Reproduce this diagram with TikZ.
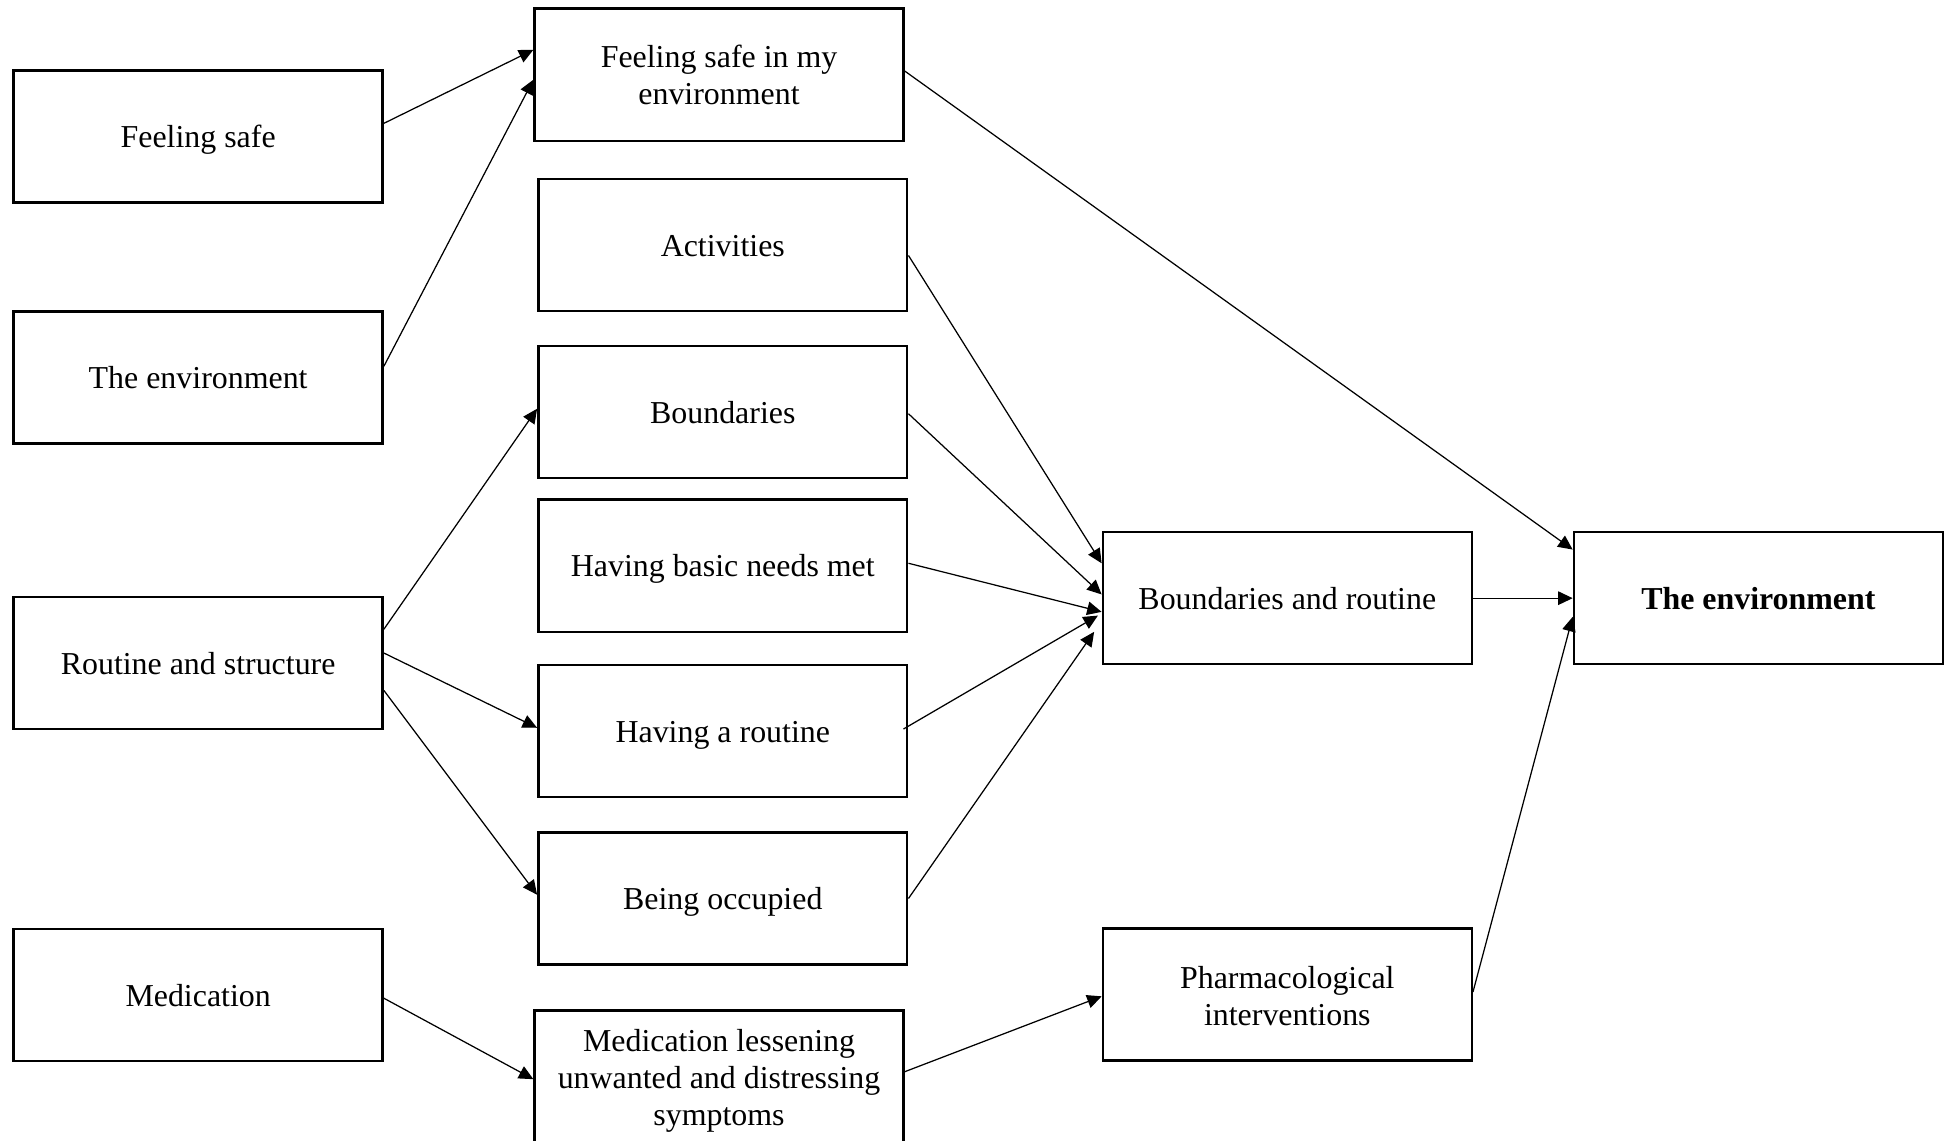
\documentclass[tikz,border=0pt]{standalone}
\usepackage{fontspec}
\setmainfont{Liberation Serif}
\usetikzlibrary{arrows.meta}
\begin{document}
\begin{tikzpicture}[x=0.5pt,y=-0.5pt,
  box/.style={draw, line width=1pt, minimum width=148pt, minimum height=53pt,
    inner sep=0pt, align=center, font=\fontsize{12.8}{15}\selectfont,
    text height=9pt, text depth=0pt},
  arr/.style={line width=0.5pt, -{Triangle[length=5.8pt,width=5.4pt]}}]
\useasboundingbox (0,0) rectangle (1568,915);
\fill[white] (0,0) rectangle (1568,915);

% left column: themes
\node[box] (fs)   at (159,109.5) {Feeling safe};
\node[box] (env)  at (159,303)   {The environment};
\node[box] (rs)   at (159,532)   {Routine and structure};
\node[box] (med)  at (159,798.5) {Medication};

% middle column: subthemes
\node[box, text height=24pt] (fse) at (577,60) {Feeling safe in my\\environment};
\node[box] (act)  at (580,196.5) {Activities};
\node[box] (bnd)  at (580,330.5) {Boundaries};
\node[box] (bas)  at (580,454)   {Having basic needs met};
\node[box] (rtn)  at (580,586.5) {Having a routine};
\node[box] (occ)  at (580,721)   {Being occupied};
\node[box, text height=42.2pt, text depth=2.8pt] (mls) at (577,864)
  {Medication lessening\\unwanted and distressing\\symptoms};

% second column: grouped themes
\node[box] (br)   at (1033,480)  {Boundaries and routine};
\node[box, text height=25.2pt] (ph) at (1033,798) {Pharmacological\\interventions};

% overarching theme
\node[box, font=\fontsize{12.8}{15}\selectfont\bfseries] (te) at (1411,480) {The environment};

% connectors
\draw[arr] ([yshift=5.25pt]fs.east)  -- ([yshift=10pt]fse.west);
\draw[arr] ([yshift=4.5pt]env.east)  -- ([yshift=-2pt]fse.west);
\draw[arr] ([yshift=1.5pt]fse.east)  -- ([yshift=19.5pt]te.west);

\draw[arr] ([yshift=-4.25pt]act.east) -- ([yshift=14pt]br.west);
\draw[arr] ([yshift=-0.75pt]bnd.east) -- ([yshift=1.5pt]br.west);
\draw[arr] ([yshift=1pt]bas.east)     -- ([yshift=-5.5pt]br.west);
\draw[arr] ([xshift=-2pt,yshift=0.75pt]rtn.east) -- ([xshift=-1.5pt,yshift=-7pt]br.west);
\draw[arr] (occ.east) -- ([xshift=-3pt,yshift=-13.5pt]br.west);

\draw[arr] (br.east) -- (te.west);
\draw[arr] ([yshift=1pt]ph.east) -- ([yshift=-7.5pt]te.west);

\draw[arr] ([yshift=13.5pt]rs.east) -- ([yshift=1.25pt]bnd.west);
\draw[arr] ([yshift=4pt]rs.east)    -- ([yshift=1.25pt]rtn.west);
\draw[arr] ([yshift=-11pt]rs.east)  -- ([yshift=1.5pt]occ.west);

\draw[arr] ([yshift=-1.25pt]med.east) -- ([yshift=-1pt]mls.west);
\draw[arr] ([yshift=2pt]mls.east)     -- ([yshift=-0.75pt]ph.west);
\end{tikzpicture}
\end{document}
